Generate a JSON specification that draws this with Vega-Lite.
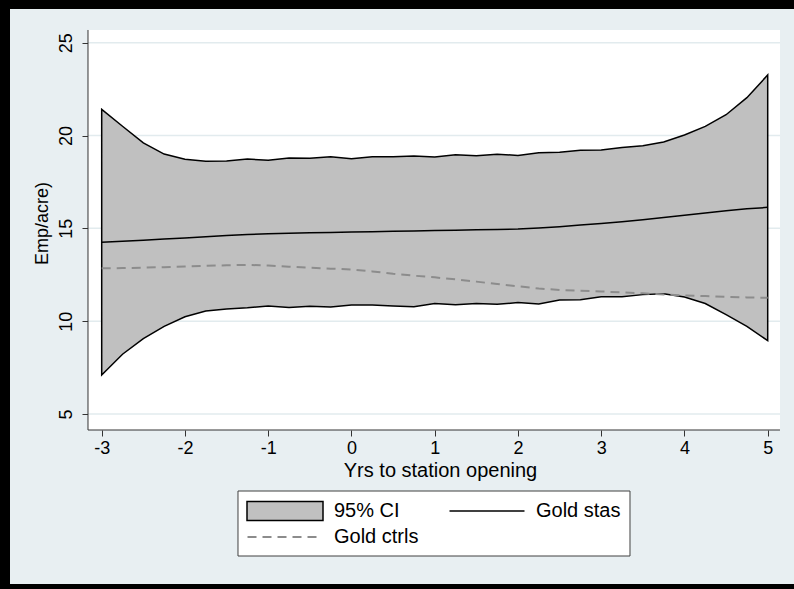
{
  "$schema": "https://vega.github.io/schema/vega-lite/v6.json",
  "width": 784,
  "height": 575,
  "autosize": "none",
  "padding": {"left": 10, "top": 9, "right": 0, "bottom": 5},
  "background": "#000000",
  "config": {
    "view": {"fill": "#e8eff2", "stroke": null},
    "font": "Liberation Sans",
    "axis": {"labelFont": "Liberation Sans", "titleFont": "Liberation Sans", "labelColor": "#000000", "titleColor": "#000000", "titleFontWeight": "normal", "tickColor": "#333333", "domain": false, "grid": false, "labelFontSize": 18, "titleFontSize": 18, "tickSize": 6},
    "axisX": {"offset": -154, "labelPadding": 3, "titleX": 430, "titlePadding": 3, "titleFontSize": 20},
    "axisY": {"offset": -78, "labelAngle": -90, "labelAlign": "center", "labelBaseline": "bottom", "labelPadding": 7, "titleAngle": -90, "titleBaseline": "middle", "titleX": -46, "titleY": 214},
    "legend": {"orient": "none", "padding": 0, "labelFont": "Liberation Sans", "labelFontSize": 20, "labelColor": "#000000", "symbolSize": 400, "symbolOffset": 28, "labelOffset": 38}
  },
  "datasets": {
    "fit": [
      {"x": -3.00, "lo": 7.10, "hi": 21.41, "stas": 14.25, "ctrls": 12.85},
      {"x": -2.75, "lo": 8.22, "hi": 20.50, "stas": 14.30, "ctrls": 12.86},
      {"x": -2.50, "lo": 9.06, "hi": 19.60, "stas": 14.36, "ctrls": 12.88},
      {"x": -2.25, "lo": 9.72, "hi": 19.00, "stas": 14.42, "ctrls": 12.91},
      {"x": -2.00, "lo": 10.24, "hi": 18.72, "stas": 14.48, "ctrls": 12.95},
      {"x": -1.75, "lo": 10.55, "hi": 18.62, "stas": 14.55, "ctrls": 12.98},
      {"x": -1.50, "lo": 10.66, "hi": 18.63, "stas": 14.62, "ctrls": 13.01},
      {"x": -1.25, "lo": 10.72, "hi": 18.73, "stas": 14.67, "ctrls": 13.03},
      {"x": -1.00, "lo": 10.82, "hi": 18.67, "stas": 14.71, "ctrls": 13.00},
      {"x": -0.75, "lo": 10.74, "hi": 18.79, "stas": 14.74, "ctrls": 12.93},
      {"x": -0.50, "lo": 10.80, "hi": 18.78, "stas": 14.76, "ctrls": 12.88},
      {"x": -0.25, "lo": 10.76, "hi": 18.86, "stas": 14.78, "ctrls": 12.83},
      {"x": 0.00, "lo": 10.87, "hi": 18.75, "stas": 14.80, "ctrls": 12.78},
      {"x": 0.25, "lo": 10.87, "hi": 18.86, "stas": 14.82, "ctrls": 12.68},
      {"x": 0.50, "lo": 10.82, "hi": 18.85, "stas": 14.84, "ctrls": 12.55},
      {"x": 0.75, "lo": 10.78, "hi": 18.90, "stas": 14.86, "ctrls": 12.45},
      {"x": 1.00, "lo": 10.95, "hi": 18.84, "stas": 14.88, "ctrls": 12.36},
      {"x": 1.25, "lo": 10.88, "hi": 18.97, "stas": 14.90, "ctrls": 12.25},
      {"x": 1.50, "lo": 10.95, "hi": 18.91, "stas": 14.92, "ctrls": 12.13},
      {"x": 1.75, "lo": 10.91, "hi": 18.99, "stas": 14.94, "ctrls": 12.00},
      {"x": 2.00, "lo": 11.00, "hi": 18.93, "stas": 14.96, "ctrls": 11.88},
      {"x": 2.25, "lo": 10.92, "hi": 19.07, "stas": 15.02, "ctrls": 11.76},
      {"x": 2.50, "lo": 11.14, "hi": 19.10, "stas": 15.09, "ctrls": 11.68},
      {"x": 2.75, "lo": 11.16, "hi": 19.20, "stas": 15.18, "ctrls": 11.64},
      {"x": 3.00, "lo": 11.31, "hi": 19.22, "stas": 15.26, "ctrls": 11.60},
      {"x": 3.25, "lo": 11.32, "hi": 19.36, "stas": 15.36, "ctrls": 11.55},
      {"x": 3.50, "lo": 11.43, "hi": 19.45, "stas": 15.46, "ctrls": 11.50},
      {"x": 3.75, "lo": 11.48, "hi": 19.65, "stas": 15.58, "ctrls": 11.44},
      {"x": 4.00, "lo": 11.30, "hi": 20.03, "stas": 15.70, "ctrls": 11.39},
      {"x": 4.25, "lo": 10.95, "hi": 20.49, "stas": 15.83, "ctrls": 11.35},
      {"x": 4.50, "lo": 10.35, "hi": 21.12, "stas": 15.95, "ctrls": 11.31},
      {"x": 4.75, "lo": 9.72, "hi": 22.04, "stas": 16.05, "ctrls": 11.28},
      {"x": 5.00, "lo": 8.95, "hi": 23.26, "stas": 16.13, "ctrls": 11.26}
    ],
    "grid": [{"y": 5}, {"y": 10}, {"y": 15}, {"y": 20}, {"y": 25}]
  },
  "layer": [
    {
      "data": {"values": [{}]},
      "mark": {"type": "rect", "fill": "#ffffff"},
      "encoding": {
        "x": {"datum": -3.1646, "type": "quantitative"},
        "x2": {"datum": 5.1477},
        "y": {"datum": 4.138, "type": "quantitative"},
        "y2": {"datum": 25.684}
      }
    },
    {
      "data": {"name": "grid"},
      "mark": {"type": "rule", "stroke": "#e2ebee", "strokeWidth": 1.5},
      "encoding": {
        "y": {"field": "y", "type": "quantitative"},
        "x": {"datum": -3.1646, "type": "quantitative"},
        "x2": {"datum": 5.1477}
      }
    },
    {
      "data": {"name": "fit"},
      "mark": {"type": "area", "stroke": "#000000", "strokeWidth": 1.5},
      "encoding": {
        "x": {
          "field": "x", "type": "quantitative",
          "scale": {"domain": [-4.1015, 5.3159], "nice": false, "zero": false},
          "axis": {"orient": "bottom", "values": [-3, -2, -1, 0, 1, 2, 3, 4, 5], "labelExpr": "'' + datum.value", "title": "Yrs to station opening"}
        },
        "y": {
          "field": "lo", "type": "quantitative",
          "scale": {"domain": [-4.157, 26.815], "nice": false, "zero": false},
          "axis": {"orient": "left", "values": [5, 10, 15, 20, 25], "title": "Emp/acre)"}
        },
        "y2": {"field": "hi"},
        "fill": {
          "datum": "95% CI", "type": "nominal",
          "scale": {"range": ["#c0c0c0"]},
          "legend": {"legendX": 236, "legendY": 491, "title": null, "symbolType": "M-3.8,-0.95H3.8V0.95H-3.8Z", "symbolStrokeColor": "#000000", "symbolStrokeWidth": 1.5}
        }
      }
    },
    {
      "data": {"name": "fit"},
      "mark": {"type": "line", "strokeWidth": 1.5},
      "encoding": {
        "x": {"field": "x", "type": "quantitative"},
        "y": {"field": "stas", "type": "quantitative"},
        "stroke": {
          "datum": "Gold stas", "type": "nominal",
          "scale": {"range": ["#000000"]},
          "legend": {"legendX": 438, "legendY": 491, "title": null, "symbolType": "M-3.75,0H3.75", "symbolStrokeColor": "#000000", "symbolStrokeWidth": 1.5}
        }
      }
    },
    {
      "data": {"name": "fit"},
      "mark": {"type": "line", "strokeWidth": 2, "stroke": "#8c8c8c"},
      "encoding": {
        "x": {"field": "x", "type": "quantitative"},
        "y": {"field": "ctrls", "type": "quantitative"},
        "strokeDash": {
          "datum": "Gold ctrls", "type": "nominal",
          "scale": {"range": [[9, 6]]},
          "legend": {"legendX": 236, "legendY": 517, "title": null, "symbolType": "M-3.75,0H3.75", "symbolStrokeColor": "#8c8c8c", "symbolStrokeWidth": 2}
        }
      }
    },
    {
      "data": {"values": [{}]},
      "mark": {"type": "rule", "stroke": "#333333"},
      "encoding": {
        "x": {"datum": -3.1646, "type": "quantitative"},
        "y": {"datum": 4.138, "type": "quantitative"},
        "y2": {"datum": 25.684}
      }
    },
    {
      "data": {"values": [{}]},
      "mark": {"type": "rule", "stroke": "#333333"},
      "encoding": {
        "x": {"datum": -3.1646, "type": "quantitative"},
        "x2": {"datum": 5.1477},
        "y": {"datum": 4.138, "type": "quantitative"}
      }
    },
    {
      "data": {"values": [{}]},
      "mark": {"type": "rect", "fill": "#ffffff", "stroke": "#404040", "strokeWidth": 1},
      "encoding": {
        "x": {"datum": -1.3628, "type": "quantitative"},
        "x2": {"datum": 3.3459},
        "y": {"datum": 0.852, "type": "quantitative"},
        "y2": {"datum": -2.649}
      }
    }
  ]
}
